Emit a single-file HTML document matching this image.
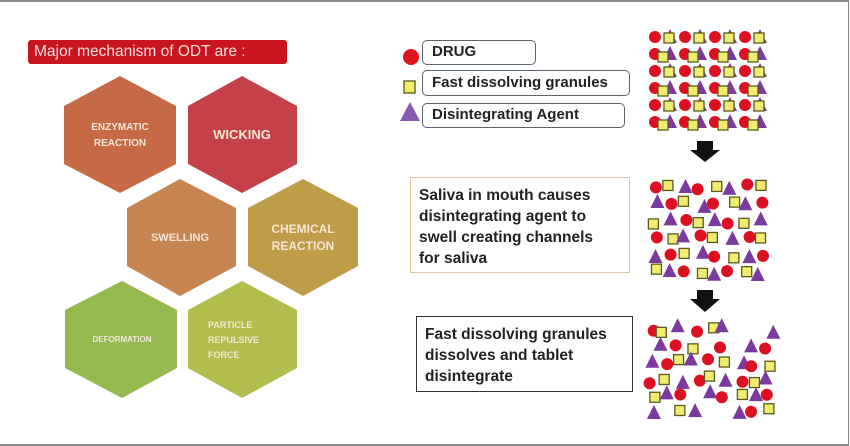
<!DOCTYPE html>
<html><head><meta charset="utf-8">
<style>
html,body{margin:0;padding:0;background:#fff;}
body{width:850px;height:445px;position:relative;overflow:hidden;font-family:"Liberation Sans",sans-serif;}
.frame{position:absolute;left:0;top:0;width:848px;height:442px;border-top:2px solid #888;border-right:1px solid #888;border-bottom:2px solid #888;}
.title{position:absolute;left:28px;top:40px;width:259px;height:24px;background:#c8141e;border-radius:3px;color:#f4dede;font-size:15.5px;line-height:24px;text-indent:6px;white-space:nowrap;}
.lbox{position:absolute;border:1.5px solid #5a6470;border-radius:5px;font-weight:bold;color:#222;font-size:15px;padding-left:9px;box-sizing:border-box;white-space:nowrap;}
.tbox{position:absolute;font-weight:bold;color:#222;font-size:15.5px;line-height:21px;box-sizing:border-box;white-space:nowrap;}
</style></head><body>
<div class="frame"></div>
<div class="title">Major mechanism of ODT are :</div>
<svg width="850" height="445" style="position:absolute;left:0;top:0" id="s">
<g font-family="Liberation Sans,sans-serif" font-weight="bold" fill="#f3e6d6" text-anchor="middle">
<polygon points="120,76 176,106 176,164 120,193 64,164 64,106" fill="#c56a45"/>
<polygon points="242,76 297,106 297,164 242,193 188,164 188,106" fill="#c4414a"/>
<polygon points="180,179 236,208 236,266 180,296 127,266 127,208" fill="#c58450"/>
<polygon points="303,179 358,208 358,266 303,296 248,266 248,208" fill="#bf9c48"/>
<polygon points="122,281 177,310 177,368 122,398 65,368 65,310" fill="#94b94e"/>
<polygon points="242,281 297,310 297,368 242,398 188,368 188,310" fill="#b2bd4d"/>
<text x="120" y="130" font-size="10">ENZYMATIC</text>
<text x="120" y="146" font-size="10">REACTION</text>
<text x="242" y="139" font-size="13">WICKING</text>
<text x="180" y="241" font-size="11">SWELLING</text>
<text x="303" y="233" font-size="12">CHEMICAL</text>
<text x="303" y="250" font-size="12">REACTION</text>
<text x="122" y="342" font-size="8">DEFORMATION</text>
<text x="208" y="328" font-size="9" text-anchor="start">PARTICLE</text>
<text x="208" y="343" font-size="9" text-anchor="start">REPULSIVE</text>
<text x="208" y="358" font-size="9" text-anchor="start">FORCE</text>
</g>
<circle cx="411" cy="57" r="8" fill="#e0141c"/>
<rect x="404" y="81" width="11" height="12" fill="#f2ee60" stroke="#6a6a30" stroke-width="1.5"/>
<polygon points="410,102 420,121 400,121" fill="#8a5ab0"/>
<polygon points="697,141 713,141 713,150 720,150 705,162 690,150 697,150" fill="#111"/>
<polygon points="697,290 713,290 713,299 720,299 705,312 690,299 697,299" fill="#111"/>
<g id="p"></g>
</svg>
<div class="lbox" style="left:422px;top:40px;width:114px;height:25px;line-height:22px;">DRUG</div>
<div class="lbox" style="left:422px;top:70px;width:208px;height:26px;line-height:23px;">Fast dissolving granules</div>
<div class="lbox" style="left:422px;top:103px;width:203px;height:25px;line-height:22px;">Disintegrating Agent</div>
<div class="tbox" style="left:410px;top:177px;width:220px;height:96px;border:1.5px solid #e0c8a0;padding:7px 0 0 8px;">Saliva in mouth causes<br>disintegrating agent to<br>swell creating channels<br>for saliva</div>
<div class="tbox" style="left:416px;top:316px;width:217px;height:76px;border:1.5px solid #333;padding:7px 0 0 8px;">Fast dissolving granules<br>dissolves and tablet<br>disintegrate</div>
<script>
var g=document.getElementById('p'),ns='http://www.w3.org/2000/svg',seed=7;
function r(){seed=(seed*9301+49297)%233280;return seed/233280;}
function add(t,x,y){var e;
 if(t==0){e=document.createElementNS(ns,'circle');e.setAttribute('cx',x);e.setAttribute('cy',y);e.setAttribute('r',6);e.setAttribute('fill','#dc1020');}
 else if(t==1){e=document.createElementNS(ns,'rect');e.setAttribute('x',x-5);e.setAttribute('y',y-5);e.setAttribute('width',10);e.setAttribute('height',10);e.setAttribute('fill','#f0ec70');e.setAttribute('stroke','#5a5a20');e.setAttribute('stroke-width',1.3);}
 else{e=document.createElementNS(ns,'polygon');e.setAttribute('points',(x)+','+(y-8)+' '+(x+7)+','+(y+6)+' '+(x-7)+','+(y+6));e.setAttribute('fill','#7a3aa0');}
 g.appendChild(e);}
// cluster 1 dense grid
for(var row=0;row<6;row++)for(var c=0;c<8;c++){var x=655+c*15,y=37+row*17;add(c%2==0?0:2,x,y);}
for(var row=0;row<6;row++)for(var c=0;c<4;c++){add(1,669+c*30+((row%2)*-6),38+row*17+(row%2)*2);}
// cluster 2 jittered grid
for(var row=0;row<6;row++)for(var c=0;c<8;c++){var t=(c+row*2)%3;add(t,656+c*15+(r()-0.5)*8,187+row*17+(r()-0.5)*6);}
// cluster 3 sparse jittered
for(var row=0;row<6;row++)for(var c=0;c<9;c++){if(r()<0.15)continue;var t=(c+row)%3;add(t,650+c*15+(r()-0.5)*10,330+row*16.5+(r()-0.5)*8);}
</script>
</body></html>
